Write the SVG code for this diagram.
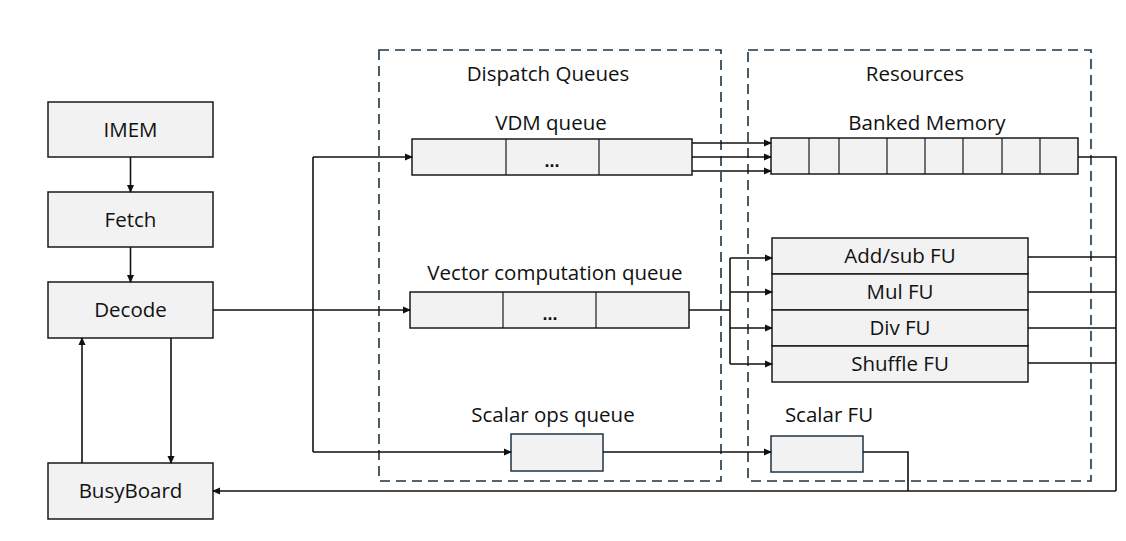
<svg xmlns="http://www.w3.org/2000/svg" width="1126" height="541" viewBox="0 0 1126 541">
<style>
.box{fill:#F2F2F2;stroke:#1a1a1a;stroke-width:1.5}
.qbox{fill:#F2F2F2;stroke:#1E3444;stroke-width:1.5}
.dash{fill:none;stroke:#1E3444;stroke-width:1.6;stroke-dasharray:10 6}
.t{font-family:"Open Sans","Liberation Sans",Arial,sans-serif;font-size:20.5px;fill:#111;text-anchor:middle}
.dots{font-family:"Liberation Sans",Arial,sans-serif;font-size:18px;font-weight:bold;fill:#111;text-anchor:middle}
.ln{fill:none;stroke:#111;stroke-width:1.6}
.div{stroke:#1a1a1a;stroke-width:1.2}
</style>
<defs>
<marker id="ah" markerWidth="8" markerHeight="8" refX="7" refY="4" orient="auto" markerUnits="userSpaceOnUse">
<path d="M0,0.5 L8,4 L0,7.5 Z" fill="#111"/>
</marker>
</defs>
<rect width="1126" height="541" fill="#fff"/>

<g id="dispatch-queues">
<rect class="dash" x="379" y="50" width="342" height="431"/>
<text class="t" x="548" y="81">Dispatch Queues</text>
</g>
<g id="resources">
<rect class="dash" x="748" y="50" width="343" height="431"/>
<text class="t" x="915" y="81">Resources</text>
</g>

<g id="imem"><rect class="box" x="48" y="102" width="165" height="55"/><text class="t" x="130.5" y="137">IMEM</text></g>
<g id="fetch"><rect class="box" x="48" y="192" width="165" height="55"/><text class="t" x="130.5" y="227">Fetch</text></g>
<g id="decode"><rect class="box" x="48" y="282" width="165" height="56"/><text class="t" x="130.5" y="317">Decode</text></g>
<g id="busyboard"><rect class="box" x="48" y="463" width="165" height="56"/><text class="t" x="130.5" y="498">BusyBoard</text></g>

<g id="vdm-queue">
<text class="t" x="551" y="130">VDM queue</text>
<rect class="qbox" x="412" y="139" width="280" height="36" style="stroke:#1a1a1a"/>
<line class="div" x1="506" y1="139" x2="506" y2="175"/>
<line class="div" x1="599" y1="139" x2="599" y2="175"/>
<text class="dots" x="552" y="167">...</text>
</g>

<g id="vector-queue">
<text class="t" x="555" y="280">Vector computation queue</text>
<rect class="qbox" x="410" y="292" width="279" height="36" style="stroke:#1a1a1a"/>
<line class="div" x1="503" y1="292" x2="503" y2="328"/>
<line class="div" x1="596" y1="292" x2="596" y2="328"/>
<text class="dots" x="550" y="320">...</text>
</g>

<g id="scalar-queue">
<text class="t" x="553" y="422">Scalar ops queue</text>
<rect class="qbox" x="511" y="434" width="92" height="37"/>
</g>

<g id="banked-memory">
<text class="t" x="927" y="130">Banked Memory</text>
<rect class="box" x="771" y="138" width="307" height="36"/>
<line class="div" x1="809" y1="138" x2="809" y2="174"/>
<line class="div" x1="839" y1="138" x2="839" y2="174"/>
<line class="div" x1="887" y1="138" x2="887" y2="174"/>
<line class="div" x1="925" y1="138" x2="925" y2="174"/>
<line class="div" x1="963" y1="138" x2="963" y2="174"/>
<line class="div" x1="1002" y1="138" x2="1002" y2="174"/>
<line class="div" x1="1040" y1="138" x2="1040" y2="174"/>
</g>

<g id="fu-block">
<rect class="box" x="772" y="238" width="256" height="36"/>
<text class="t" x="900" y="263">Add/sub FU</text>
<rect class="box" x="772" y="274" width="256" height="36"/>
<text class="t" x="900" y="299">Mul FU</text>
<rect class="box" x="772" y="310" width="256" height="36"/>
<text class="t" x="900" y="335">Div FU</text>
<rect class="box" x="772" y="346" width="256" height="36"/>
<text class="t" x="900" y="371">Shuffle FU</text>
</g>

<g id="scalar-fu">
<text class="t" x="829" y="422">Scalar FU</text>
<rect class="qbox" x="771" y="436" width="92" height="36"/>
</g>

<g id="connectors">
<line class="ln" x1="130.5" y1="157" x2="130.5" y2="192" marker-end="url(#ah)"/>
<line class="ln" x1="130.5" y1="247" x2="130.5" y2="282" marker-end="url(#ah)"/>
<line class="ln" x1="82" y1="463" x2="82" y2="338" marker-end="url(#ah)"/>
<line class="ln" x1="171" y1="338" x2="171" y2="463" marker-end="url(#ah)"/>
<line class="ln" x1="213" y1="310" x2="313" y2="310"/>
<line class="ln" x1="313" y1="157" x2="313" y2="452"/>
<polyline class="ln" points="313,157 412,157" marker-end="url(#ah)"/>
<polyline class="ln" points="313,310 410,310" marker-end="url(#ah)"/>
<polyline class="ln" points="313,452 511,452" marker-end="url(#ah)"/>
<line class="ln" x1="692" y1="143" x2="771" y2="143" marker-end="url(#ah)"/>
<line class="ln" x1="692" y1="157" x2="771" y2="157" marker-end="url(#ah)"/>
<line class="ln" x1="692" y1="171" x2="771" y2="171" marker-end="url(#ah)"/>
<line class="ln" x1="689" y1="310" x2="730" y2="310"/>
<line class="ln" x1="730" y1="258" x2="730" y2="364"/>
<line class="ln" x1="730" y1="258" x2="772" y2="258" marker-end="url(#ah)"/>
<line class="ln" x1="730" y1="292" x2="772" y2="292" marker-end="url(#ah)"/>
<line class="ln" x1="730" y1="328" x2="772" y2="328" marker-end="url(#ah)"/>
<line class="ln" x1="730" y1="364" x2="772" y2="364" marker-end="url(#ah)"/>
<line class="ln" x1="603" y1="452" x2="771" y2="452" marker-end="url(#ah)"/>
<polyline class="ln" points="1078,157 1116,157 1116,491"/>
<line class="ln" x1="1028" y1="257" x2="1116" y2="257"/>
<line class="ln" x1="1028" y1="292" x2="1116" y2="292"/>
<line class="ln" x1="1028" y1="328" x2="1116" y2="328"/>
<line class="ln" x1="1028" y1="363" x2="1116" y2="363"/>
<polyline class="ln" points="863,452 908,452 908,491"/>
<line class="ln" x1="1116" y1="491" x2="213" y2="491" marker-end="url(#ah)"/>
</g>
</svg>
